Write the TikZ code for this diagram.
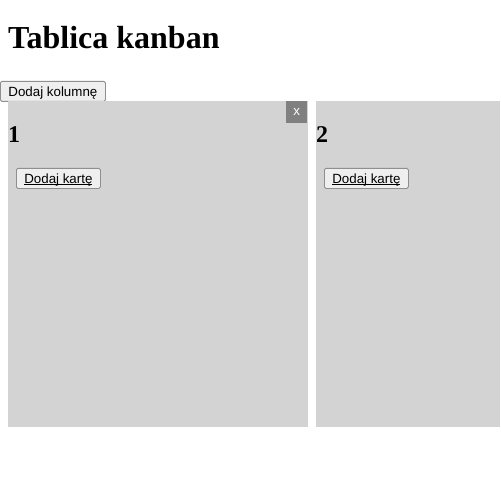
\documentclass[tikz,border=0pt]{standalone}
\usepackage{fontspec}
\setmainfont{Liberation Serif}
\setsansfont{Liberation Sans}
\definecolor{ColGray}{HTML}{D3D3D3}
\definecolor{BtnGray}{HTML}{EFEFEF}
\definecolor{BtnLine}{HTML}{8F8F8F}
\definecolor{XGray}{HTML}{808080}
\newcommand{\linkul}[1]{\setbox0\hbox{#1}\rlap{\rule[-1.6bp]{\wd0}{0.9bp}}\box0}

\begin{document}
\begin{tikzpicture}[x=1bp,y=-1bp,
    button/.style={draw=BtnLine,fill=BtnGray,rounded corners=1.5bp,line width=0.8bp,
      inner sep=0pt,minimum height=20bp,anchor=north west,
      text height=12.8bp,text depth=2bp,
      font=\sffamily\fontsize{13.33bp}{16bp}\selectfont},
    column/.style={fill=ColGray,inner sep=0pt,anchor=north west,
      minimum height=326bp},
    heading/.style={inner sep=0pt,anchor=base west,
      font=\bfseries\fontsize{24bp}{28bp}\selectfont}]
        \useasboundingbox (0,0) rectangle (500,500);

        % title
        \node[inner sep=0pt,anchor=base west,font=\bfseries\fontsize{32bp}{38bp}\selectfont]
          (title) at (8,49) {Tablica kanban};
        \node[button,minimum width=105bp] (addcol) at (0,81) {Dodaj kolumnę};

        % columns
        \node[column,minimum width=300bp] (col1) at (8,101) {};
        \node[column,minimum width=184bp] (col2) at (316,101) {};

        % close button
        \node[fill=XGray,inner sep=0pt,minimum width=21bp,minimum height=22bp,anchor=north west,
          text=white,font=\sffamily\fontsize{13.33bp}{16bp}\selectfont] (close1) at (286,101) {x};

        \node[heading] (head1) at (8,142.5) {1};
        \node[heading] (head2) at (316,142.5) {2};

        \node[button,minimum width=84bp] (addcard1) at (16,168) {\linkul{Dodaj kartę}};
        \node[button,minimum width=84bp] (addcard2) at (324,168) {\linkul{Dodaj kartę}};
    \end{tikzpicture}
\end{document}
